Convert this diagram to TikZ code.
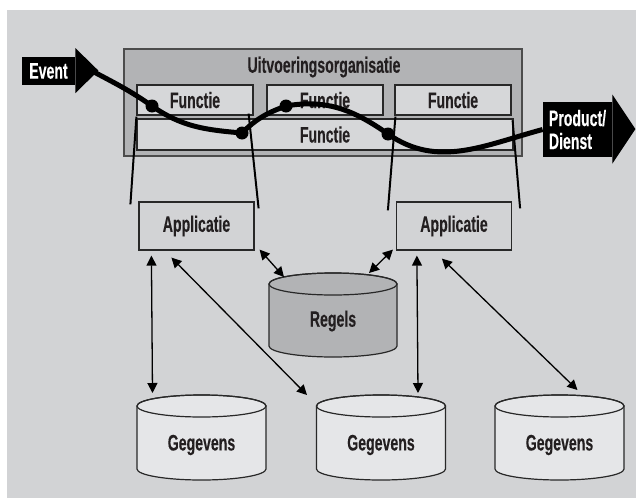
\documentclass[tikz,border=0pt]{standalone}
\usepackage{fontspec}
\setmainfont{Liberation Sans Bold}[FakeStretch=0.63, FakeBold=0.15]
\usepackage{xcolor}
\usetikzlibrary{arrows.meta}

\definecolor{bggray}{RGB}{210,211,213}
\definecolor{orggray}{RGB}{178,179,181}
\definecolor{fngray}{RGB}{214,215,217}
\definecolor{dbgray}{RGB}{229,230,232}
\definecolor{inkblack}{RGB}{35,31,32}
\definecolor{lineblack}{RGB}{40,40,40}

\begin{document}
\begin{tikzpicture}[x=0.5pt, y=-0.5pt,
  every node/.style={font=\fontsize{11.2}{11.5}\selectfont, text=inkblack},
  box/.style={draw=lineblack, line width=0.6pt, inner sep=0pt},
  fnbox/.style={box, fill=fngray, minimum width=58pt, minimum height=15pt},
  appbox/.style={box, fill=bggray, minimum width=57.5pt, minimum height=24pt},
  cyl/.style={draw=lineblack, line width=0.6pt},
  flow/.style={line width=2.5pt, draw=black},
  funnel/.style={line width=1pt, draw=black},
  dbl/.style={{Triangle[length=5pt,width=5pt]}-{Triangle[length=5pt,width=5pt]}, line width=0.65pt},
  blockarrow/.style={fill=black, text=white, inner sep=0pt, align=left}]

% ======================================================================
% BACKGROUND (1 unit = 1 px of the 636 x 498 frame, y downwards)
% ======================================================================
\useasboundingbox (0,0) rectangle (636,498);
\fill[bggray] (7,10) rectangle (636,498);

% ======================================================================
% TOP : UITVOERINGSORGANISATIE WITH ITS FUNCTIES
% ======================================================================
\node[box, draw=black!70, line width=1pt, fill=orggray,
      minimum width=199pt, minimum height=53.5pt] (org) at (323,102.5) {};
\node (orgtitle) at (324,67) {Uitvoeringsorganisatie};

\node[fnbox] (fn1) at (195,100) {Functie};
\node[fnbox] (fn2) at (325,100) {Functie};
\node[fnbox] (fn3) at (453,100) {Functie};
\node[fnbox, minimum width=188pt, minimum height=15.5pt] (fnb) at (325,134.5) {Functie};

% event in, product out (black block arrows)
\node[blockarrow, minimum width=26.5pt, minimum height=14pt] (event) at (48.5,71) {Event};
\fill (event.north east) -- ++(0,-8.5) -- ++(23,22.5) -- ++(-23,22.5) -- ++(0,-8.5) -- cycle;
\coordinate (evtip) at (94,72);

\node[blockarrow, minimum width=34.5pt, minimum height=27.5pt] (prod) at (577.5,129.5)
  {Product/\\Dienst};
\fill (prod.north east) -- ++(0,-7) -- ++(23,34.5) -- ++(-23,34.5) -- ++(0,-7) -- cycle;

% the process line through the functies (angles are screen angles)
\coordinate (d1) at (152,106);
\coordinate (d2) at (242,133);
\coordinate (d3) at (286,106);
\coordinate (d4) at (388,134);
\draw[flow] (evtip) to[out=-28,in=145] (d1) to[out=-35,in=175] (d2)
  to[out=45,in=200] (d3) to[out=10,in=145] (d4) to[out=-35,in=195] (prod.west);
\foreach \d in {d1,d2,d3,d4}{
  \fill (\d) circle[radius=6.5];
}

% ======================================================================
% MIDDLE : APPLICATIES AND REGELS
% ======================================================================
\node[appbox] (app1) at (196.5,226) {Applicatie};
\node[appbox] (app2) at (454,226) {Applicatie};

% funnel lines from the functies down to the applicaties
\draw[funnel] ([shift={(0,1)}]fn1.south west) -- ([shift={(-8,3)}]app1.north west);
\draw[funnel] ([shift={(-5,-2)}]fn1.south east) -- ([shift={(4,7)}]app1.north east);
\draw[funnel] ([shift={(1,1)}]fn3.south west) -- ([shift={(-8,9)}]app2.north west);
\draw[funnel] ([shift={(-1,2)}]fnb.north east) -- ([shift={(8,7)}]app2.north east);

% regels (dark cylinder)
\filldraw[cyl, fill=orggray] (269,284) -- (269,346)
  arc[start angle=180, end angle=0, x radius=64, y radius=11] -- (397,284)
  arc[start angle=0, end angle=-180, x radius=64, y radius=11] -- cycle;
\draw[cyl] (333,284) ellipse[x radius=64, y radius=11];
\node (regels) at (333,321) {Regels};

% ======================================================================
% BOTTOM : GEGEVENS
% ======================================================================
\foreach \cx/\nm in {201.5/geg1, 381/geg2, 559.5/geg3}{
  \filldraw[cyl, fill=dbgray] (\cx-64.5,406) -- (\cx-64.5,469)
    arc[start angle=180, end angle=0, x radius=64.5, y radius=11] -- (\cx+64.5,406)
    arc[start angle=0, end angle=-180, x radius=64.5, y radius=11] -- cycle;
  \draw[cyl] (\cx,406) ellipse[x radius=64.5, y radius=11];
  \node (\nm) at (\cx,445) {Gegevens};
}

% data access arrows
\draw[dbl] ([shift={(5,-1)}]app1.south east) -- ([shift={(-49,-44)}]regels.center);
\draw[dbl] ([shift={(-3,-1)}]app2.south west) -- ([shift={(36,-48)}]regels.center);
\draw[dbl] ([shift={(13,5)}]app1.south west) -- ([shift={(-49,-52)}]geg1.center);
\draw[dbl] ([shift={(33,7)}]app1.south west) -- ([shift={(-74,-50)}]geg2.center);
\draw[dbl] ([shift={(21,5)}]app2.south west) -- ([shift={(37,-52)}]geg2.center);
\draw[dbl] ([shift={(46,8)}]app2.south west) -- ([shift={(18,-55)}]geg3.center);

\end{tikzpicture}
\end{document}
